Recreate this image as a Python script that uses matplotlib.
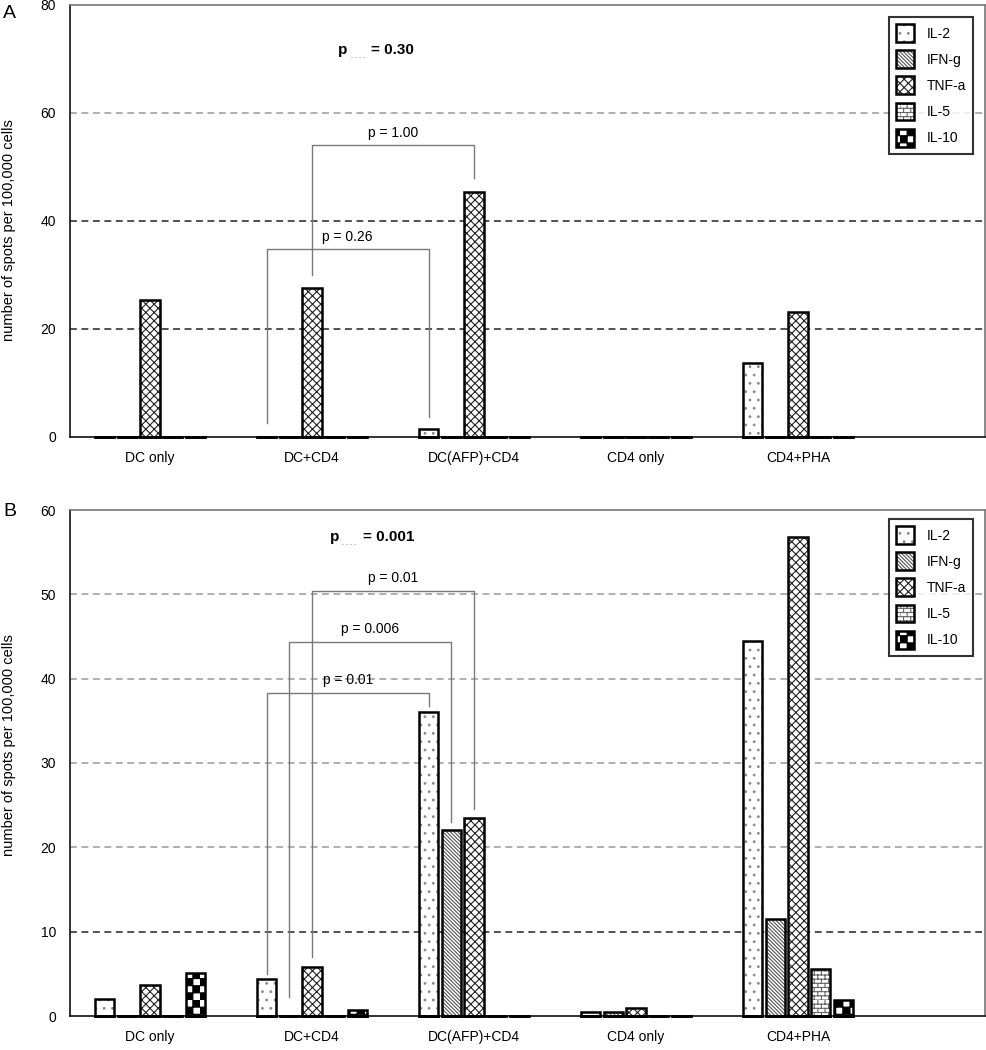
import warnings
warnings.filterwarnings("ignore")
import numpy as np
import matplotlib
matplotlib.use("Agg")
import matplotlib.pyplot as plt
import matplotlib.hatch as mhatch
from matplotlib.path import Path
from matplotlib.legend_handler import HandlerTuple

# ---------------- data ----------------
categories = ["DC only", "DC+CD4", "DC(AFP)+CD4", "CD4 only", "CD4+PHA"]
cytokines = ["IL-2", "IFN-g", "TNF-a", "IL-5", "IL-10"]

a_il2 = [0, 0, 1.5, 0, 13.7]
a_ifng = [0, 0, 0, 0, 0]
a_tnfa = [25.3, 27.6, 45.4, 0, 23.2]
a_il5 = [0, 0, 0, 0, 0]
a_il10 = [0, 0, 0, 0, 0]

b_il2 = [2.0, 4.4, 36.1, 0.5, 44.5]
b_ifng = [0, 0, 22.0, 0.5, 11.5]
b_tnfa = [3.7, 5.8, 23.5, 1.0, 56.8]
b_il5 = [0, 0, 0, 0, 5.6]
b_il10 = [5.1, 0.7, 0, 0, 1.9]

a_yticks = [0, 20, 40, 60, 80]
b_yticks = [0, 10, 20, 30, 40, 50, 60]

# brackets: (group1, series1, leg1 bottom, group2, series2, leg2 bottom, bar height, label)
a_brackets = [(1, 0, 2.6, 2, 0, 3.7, 34.8, "p = 0.26"),
              (1, 2, 30.0, 2, 2, 48.0, 54.0, "p = 1.00")]
b_brackets = [(1, 0, 5.0, 2, 0, 36.8, 38.3, "p = 0.01"),
              (1, 1, 2.3, 2, 1, 23.0, 44.4, "p = 0.006"),
              (1, 2, 7.0, 2, 2, 24.6, 50.4, "p = 0.01")]
a_pvalue = "= 0.30"
b_pvalue = "= 0.001"
ylabel_text = "number of spots per 100,000 cells"


# ---------------- custom hatches ----------------
class CheckerHatch(mhatch.HatchPatternBase):
    n = 14

    def __init__(self, hatch, density):
        self.on = 'c' in hatch
        self.num_vertices = (self.n * self.n // 2) * 5 if self.on else 0

    def set_vertices_and_codes(self, vertices, codes):
        n = self.n
        s = 1.0 / n
        k = 0
        for i in range(n):
            for j in range(n):
                if (i + j) % 2 == 0:
                    x0, y0 = i * s, j * s
                    vertices[k:k + 5] = [(x0, y0), (x0 + s, y0), (x0 + s, y0 + s),
                                         (x0, y0 + s), (x0, y0)]
                    codes[k:k + 5] = [Path.MOVETO, Path.LINETO, Path.LINETO,
                                      Path.LINETO, Path.CLOSEPOLY]
                    k += 5


class BrickHatch(mhatch.HatchPatternBase):
    rows = 24
    cols = 14

    def __init__(self, hatch, density):
        self.on = 'b' in hatch
        self.num_vertices = (self.rows * 2 + self.rows * self.cols * 2) if self.on else 0

    def set_vertices_and_codes(self, vertices, codes):
        k = 0
        for r in range(self.rows):
            y = r / self.rows
            vertices[k] = (0, y)
            vertices[k + 1] = (1, y)
            codes[k] = Path.MOVETO
            codes[k + 1] = Path.LINETO
            k += 2
            for c in range(self.cols):
                xx = (c + 0.5 * (r % 2)) / self.cols
                vertices[k] = (xx, y)
                vertices[k + 1] = (xx, y + 1.0 / self.rows)
                codes[k] = Path.MOVETO
                codes[k + 1] = Path.LINETO
                k += 2


mhatch._hatch_types.append(CheckerHatch)
mhatch._hatch_types.append(BrickHatch)

# ---------------- style ----------------
plt.rcParams['font.family'] = ['Liberation Sans', 'DejaVu Sans']
plt.rcParams['hatch.linewidth'] = 0.8

hatches = ['..', '\\' * 9, 'xxxx', 'b', 'c']
hatch_cols = ['#8a8a8a', '#555555', '#222222', '#666666', '#000000']

fig = plt.figure(figsize=(9.87, 10.5), dpi=100)
W, H = 987.0, 1050.0
axA = fig.add_axes([70 / W, 1 - 437 / H, 915 / W, 432 / H])
axB = fig.add_axes([70 / W, 1 - 1016 / H, 915 / W, 506 / H])

x = np.arange(len(categories))
step = 0.14
width = 0.118


def draw_panel(ax, series, yticks, dark_levels, brackets, pval, pval_pos, legend_anchor):
    ax.set_xlim(-0.494, 5.154)
    ax.set_ylim(yticks[0], yticks[-1])
    for lv in yticks[1:-1]:
        col = '#222222' if lv in dark_levels else '#9a9a9a'
        ax.axhline(lv, color=col, lw=1.1, ls=(0, (4.5, 3)), zorder=0.5)
    handles = []
    for k, vals in enumerate(series):
        xs = x + (k - 2) * step
        hb = ax.bar(xs, vals, width, color='white', edgecolor=hatch_cols[k],
                    hatch=hatches[k], linewidth=0, zorder=2)
        ob = ax.bar(xs, vals, width, facecolor='none', edgecolor='black',
                    linewidth=1.8, zorder=3)
        for p in ob.patches:
            p.set_clip_on(False)
        # bar base outline (visible also for zero-height bars)
        ax.hlines(np.zeros(len(xs)), xs - width / 2, xs + width / 2,
                  colors='black', linewidth=2.0, zorder=3.5, capstyle='projecting',
                  clip_on=False)
        handles.append((hb.patches[0], ob.patches[0]))
    for g1, s1, b1, g2, s2, b2, top, lab in brackets:
        x1 = x[g1] + (s1 - 2) * step
        x2 = x[g2] + (s2 - 2) * step
        ax.plot([x1, x1, x2, x2], [b1, top, top, b2], color='#7a7a7a', lw=1.0, zorder=4)
        ax.annotate(lab, xy=((x1 + x2) / 2, top), xytext=(0, 4), textcoords='offset points',
                    ha='center', va='bottom', fontsize=10)
    # overall p value
    px, py = pval_pos
    ax.text(px, py, "p", transform=ax.transAxes, fontsize=11, fontweight='bold',
            ha='left', va='center')
    ax.annotate(". . . .", xy=(px, py), xycoords='axes fraction', xytext=(9, -5),
                textcoords='offset points', fontsize=5, ha='left', va='center',
                color='#333333')
    ax.annotate(pval, xy=(px, py), xycoords='axes fraction', xytext=(24, 0),
                textcoords='offset points', fontsize=11, fontweight='bold',
                ha='left', va='center')

    ax.set_xticks(x)
    ax.set_xticklabels(categories, fontsize=10)
    ax.set_yticks(yticks)
    ax.set_yticklabels([str(v) for v in yticks], fontsize=10)
    ax.tick_params(length=0, pad=10)
    for s in ['left', 'bottom']:
        ax.spines[s].set_color('#111111')
        ax.spines[s].set_linewidth(1.2)
    for s in ['top', 'right']:
        ax.spines[s].set_color('#777777')
        ax.spines[s].set_linewidth(1.2)

    leg = ax.legend(handles, cytokines, handler_map={tuple: HandlerTuple(ndivide=1)},
                    loc='upper right', bbox_to_anchor=legend_anchor, fontsize=10,
                    frameon=True, fancybox=False, handlelength=1.3, handleheight=1.6,
                    labelspacing=0.6, handletextpad=0.9, borderpad=0.5,
                    borderaxespad=0)
    leg.get_frame().set_edgecolor('black')
    leg.get_frame().set_linewidth(1.5)
    leg.set_zorder(6)


draw_panel(axA, [a_il2, a_ifng, a_tnfa, a_il5, a_il10], a_yticks, [20, 40],
           a_brackets, a_pvalue, (0.293, 0.896), (0.987, 0.972))
draw_panel(axB, [b_il2, b_ifng, b_tnfa, b_il5, b_il10], b_yticks, [10],
           b_brackets, b_pvalue, (0.284, 0.947), (0.987, 0.982))

fig.text(9 / W, 1 - 230 / H, ylabel_text, rotation=90, fontsize=10.5,
         ha='center', va='center')
fig.text(9 / W, 1 - 745 / H, ylabel_text, rotation=90, fontsize=10.5,
         ha='center', va='center')

fig.text(3 / W, 1 - 13 / H, "A", fontsize=14, ha='left', va='center')
fig.text(3 / W, 1 - 511 / H, "B", fontsize=14, ha='left', va='center')

fig.savefig("out.png", dpi=100)
